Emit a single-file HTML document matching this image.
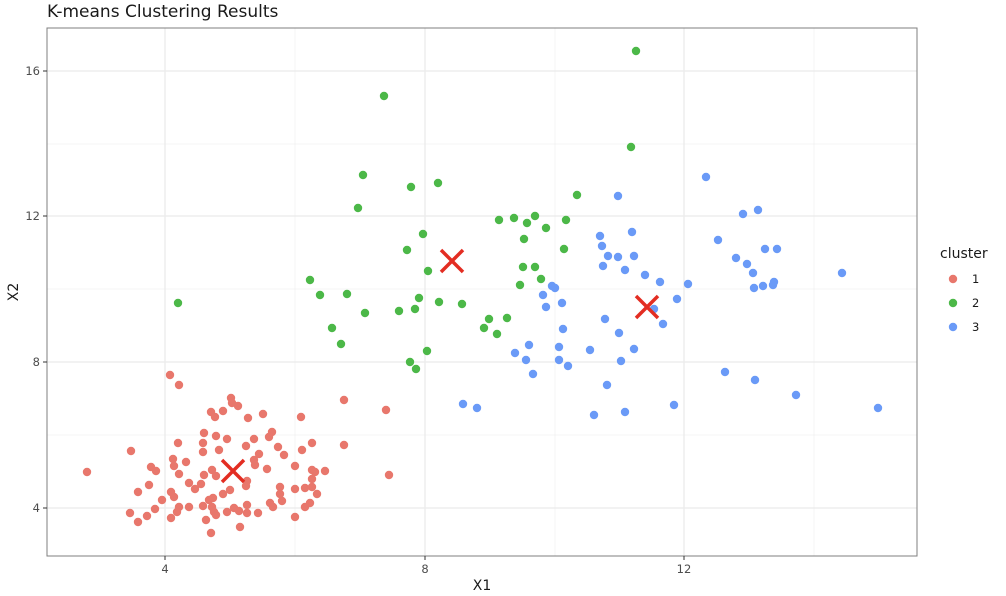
<!DOCTYPE html>
<html><head><meta charset="utf-8"><style>
html,body{margin:0;padding:0;background:#fff;}
svg{display:block;font-family:"DejaVu Sans","Liberation Sans",sans-serif;}
</style></head><body>
<svg width="1006" height="596" viewBox="0 0 1006 596">
<rect width="1006" height="596" fill="#fff"/>
<text x="47" y="17" font-size="17" fill="#1a1a1a">K-means Clustering Results</text>
<g stroke="#f2f2f2" stroke-width="0.8">
<line x1="295" y1="28" x2="295" y2="556"/><line x1="555" y1="28" x2="555" y2="556"/><line x1="814" y1="28" x2="814" y2="556"/>
<line x1="47" y1="144" x2="917" y2="144"/><line x1="47" y1="289" x2="917" y2="289"/><line x1="47" y1="435" x2="917" y2="435"/>
</g>
<g stroke="#ebebeb" stroke-width="1.3">
<line x1="165" y1="28" x2="165" y2="556"/><line x1="425" y1="28" x2="425" y2="556"/><line x1="684" y1="28" x2="684" y2="556"/>
<line x1="47" y1="71" x2="917" y2="71"/><line x1="47" y1="216" x2="917" y2="216"/><line x1="47" y1="362" x2="917" y2="362"/><line x1="47" y1="508" x2="917" y2="508"/>
</g>
<g fill="#E8776C">
<circle cx="170" cy="375" r="4.2"/><circle cx="179" cy="385" r="4.2"/><circle cx="231" cy="398" r="4.2"/><circle cx="232" cy="403" r="4.2"/><circle cx="238" cy="406" r="4.2"/><circle cx="223" cy="411" r="4.2"/><circle cx="211" cy="412" r="4.2"/><circle cx="215" cy="417" r="4.2"/><circle cx="248" cy="418" r="4.2"/><circle cx="263" cy="414" r="4.2"/><circle cx="301" cy="417" r="4.2"/><circle cx="344" cy="400" r="4.2"/><circle cx="386" cy="410" r="4.2"/>
<circle cx="204" cy="433" r="4.2"/><circle cx="216" cy="436" r="4.2"/><circle cx="227" cy="439" r="4.2"/><circle cx="272" cy="432" r="4.2"/><circle cx="269" cy="437" r="4.2"/><circle cx="254" cy="439" r="4.2"/><circle cx="246" cy="446" r="4.2"/><circle cx="203" cy="443" r="4.2"/><circle cx="178" cy="443" r="4.2"/><circle cx="131" cy="451" r="4.2"/><circle cx="219" cy="450" r="4.2"/><circle cx="203" cy="452" r="4.2"/><circle cx="259" cy="454" r="4.2"/><circle cx="278" cy="447" r="4.2"/><circle cx="302" cy="450" r="4.2"/><circle cx="312" cy="443" r="4.2"/><circle cx="344" cy="445" r="4.2"/><circle cx="284" cy="455" r="4.2"/>
<circle cx="173" cy="459" r="4.2"/><circle cx="186" cy="462" r="4.2"/><circle cx="174" cy="466" r="4.2"/><circle cx="151" cy="467" r="4.2"/><circle cx="156" cy="471" r="4.2"/><circle cx="87" cy="472" r="4.2"/><circle cx="212" cy="470" r="4.2"/><circle cx="254" cy="460" r="4.2"/><circle cx="255" cy="465" r="4.2"/><circle cx="267" cy="469" r="4.2"/><circle cx="295" cy="466" r="4.2"/><circle cx="312" cy="470" r="4.2"/><circle cx="315" cy="472" r="4.2"/><circle cx="325" cy="471" r="4.2"/><circle cx="389" cy="475" r="4.2"/>
<circle cx="179" cy="474" r="4.2"/><circle cx="204" cy="475" r="4.2"/><circle cx="216" cy="476" r="4.2"/><circle cx="247" cy="481" r="4.2"/><circle cx="246" cy="486" r="4.2"/><circle cx="189" cy="483" r="4.2"/><circle cx="201" cy="484" r="4.2"/><circle cx="149" cy="485" r="4.2"/><circle cx="195" cy="489" r="4.2"/><circle cx="230" cy="490" r="4.2"/><circle cx="280" cy="487" r="4.2"/><circle cx="312" cy="479" r="4.2"/><circle cx="305" cy="488" r="4.2"/><circle cx="312" cy="487" r="4.2"/><circle cx="295" cy="489" r="4.2"/><circle cx="138" cy="492" r="4.2"/><circle cx="171" cy="492" r="4.2"/><circle cx="174" cy="497" r="4.2"/><circle cx="223" cy="494" r="4.2"/><circle cx="280" cy="494" r="4.2"/><circle cx="317" cy="494" r="4.2"/><circle cx="162" cy="500" r="4.2"/><circle cx="209" cy="500" r="4.2"/><circle cx="213" cy="498" r="4.2"/><circle cx="282" cy="501" r="4.2"/>
<circle cx="130" cy="513" r="4.2"/><circle cx="155" cy="509" r="4.2"/><circle cx="179" cy="507" r="4.2"/><circle cx="177" cy="512" r="4.2"/><circle cx="189" cy="507" r="4.2"/><circle cx="203" cy="506" r="4.2"/><circle cx="212" cy="507" r="4.2"/><circle cx="214" cy="512" r="4.2"/><circle cx="234" cy="508" r="4.2"/><circle cx="239" cy="511" r="4.2"/><circle cx="247" cy="505" r="4.2"/><circle cx="247" cy="513" r="4.2"/><circle cx="227" cy="512" r="4.2"/><circle cx="258" cy="513" r="4.2"/><circle cx="270" cy="503" r="4.2"/><circle cx="273" cy="507" r="4.2"/><circle cx="305" cy="507" r="4.2"/><circle cx="310" cy="503" r="4.2"/><circle cx="138" cy="522" r="4.2"/><circle cx="147" cy="516" r="4.2"/><circle cx="171" cy="518" r="4.2"/><circle cx="206" cy="520" r="4.2"/><circle cx="216" cy="515" r="4.2"/><circle cx="295" cy="517" r="4.2"/><circle cx="240" cy="527" r="4.2"/><circle cx="211" cy="533" r="4.2"/>
</g>
<g fill="#4CB848">
<circle cx="384" cy="96" r="4.2"/><circle cx="636" cy="51" r="4.2"/><circle cx="631" cy="147" r="4.2"/><circle cx="178" cy="303" r="4.2"/>
<circle cx="363" cy="175" r="4.2"/><circle cx="411" cy="187" r="4.2"/><circle cx="438" cy="183" r="4.2"/><circle cx="358" cy="208" r="4.2"/><circle cx="423" cy="234" r="4.2"/><circle cx="407" cy="250" r="4.2"/><circle cx="428" cy="271" r="4.2"/><circle cx="310" cy="280" r="4.2"/><circle cx="320" cy="295" r="4.2"/><circle cx="347" cy="294" r="4.2"/><circle cx="365" cy="313" r="4.2"/><circle cx="332" cy="328" r="4.2"/><circle cx="341" cy="344" r="4.2"/><circle cx="419" cy="298" r="4.2"/><circle cx="415" cy="309" r="4.2"/><circle cx="399" cy="311" r="4.2"/><circle cx="439" cy="302" r="4.2"/><circle cx="462" cy="304" r="4.2"/><circle cx="427" cy="351" r="4.2"/><circle cx="410" cy="362" r="4.2"/><circle cx="416" cy="369" r="4.2"/>
<circle cx="499" cy="220" r="4.2"/><circle cx="514" cy="218" r="4.2"/><circle cx="527" cy="223" r="4.2"/><circle cx="535" cy="216" r="4.2"/><circle cx="546" cy="228" r="4.2"/><circle cx="566" cy="220" r="4.2"/><circle cx="577" cy="195" r="4.2"/><circle cx="524" cy="239" r="4.2"/><circle cx="564" cy="249" r="4.2"/><circle cx="523" cy="267" r="4.2"/><circle cx="535" cy="267" r="4.2"/><circle cx="541" cy="279" r="4.2"/><circle cx="520" cy="285" r="4.2"/><circle cx="489" cy="319" r="4.2"/><circle cx="507" cy="318" r="4.2"/><circle cx="484" cy="328" r="4.2"/><circle cx="497" cy="334" r="4.2"/>
</g>
<g fill="#6A9AF7">
<circle cx="842" cy="273" r="4.2"/><circle cx="878" cy="408" r="4.2"/><circle cx="463" cy="404" r="4.2"/><circle cx="477" cy="408" r="4.2"/>
<circle cx="706" cy="177" r="4.2"/><circle cx="618" cy="196" r="4.2"/><circle cx="743" cy="214" r="4.2"/><circle cx="758" cy="210" r="4.2"/><circle cx="632" cy="232" r="4.2"/><circle cx="600" cy="236" r="4.2"/><circle cx="602" cy="246" r="4.2"/><circle cx="718" cy="240" r="4.2"/><circle cx="608" cy="256" r="4.2"/><circle cx="618" cy="257" r="4.2"/><circle cx="634" cy="256" r="4.2"/><circle cx="765" cy="249" r="4.2"/><circle cx="777" cy="249" r="4.2"/><circle cx="736" cy="258" r="4.2"/><circle cx="747" cy="264" r="4.2"/><circle cx="603" cy="266" r="4.2"/><circle cx="625" cy="270" r="4.2"/><circle cx="753" cy="273" r="4.2"/><circle cx="645" cy="275" r="4.2"/><circle cx="660" cy="282" r="4.2"/><circle cx="688" cy="284" r="4.2"/><circle cx="774" cy="282" r="4.2"/><circle cx="773" cy="285" r="4.2"/><circle cx="763" cy="286" r="4.2"/><circle cx="754" cy="288" r="4.2"/><circle cx="552" cy="286" r="4.2"/><circle cx="555" cy="288" r="4.2"/><circle cx="543" cy="295" r="4.2"/><circle cx="562" cy="303" r="4.2"/><circle cx="546" cy="307" r="4.2"/><circle cx="677" cy="299" r="4.2"/><circle cx="654" cy="309" r="4.2"/><circle cx="663" cy="324" r="4.2"/><circle cx="605" cy="319" r="4.2"/><circle cx="563" cy="329" r="4.2"/><circle cx="619" cy="333" r="4.2"/><circle cx="529" cy="345" r="4.2"/><circle cx="515" cy="353" r="4.2"/><circle cx="559" cy="347" r="4.2"/><circle cx="590" cy="350" r="4.2"/><circle cx="634" cy="349" r="4.2"/><circle cx="526" cy="360" r="4.2"/><circle cx="559" cy="360" r="4.2"/><circle cx="568" cy="366" r="4.2"/><circle cx="621" cy="361" r="4.2"/><circle cx="533" cy="374" r="4.2"/><circle cx="725" cy="372" r="4.2"/><circle cx="755" cy="380" r="4.2"/><circle cx="607" cy="385" r="4.2"/><circle cx="796" cy="395" r="4.2"/><circle cx="674" cy="405" r="4.2"/><circle cx="594" cy="415" r="4.2"/><circle cx="625" cy="412" r="4.2"/>
</g>
<g stroke="#E32D22" stroke-width="3.5" stroke-linecap="butt">
<path d="M222 460 L244 482 M244 460 L222 482"/>
<path d="M441 250 L463 272 M463 250 L441 272"/>
<path d="M636 296 L658 318 M658 296 L636 318"/>
</g>
<rect x="47" y="28" width="870" height="528" fill="none" stroke="#7f7f7f" stroke-width="1"/>
<g stroke="#333" stroke-width="1">
<line x1="43" y1="71" x2="47" y2="71"/><line x1="43" y1="216" x2="47" y2="216"/><line x1="43" y1="362" x2="47" y2="362"/><line x1="43" y1="508" x2="47" y2="508"/>
<line x1="165" y1="556" x2="165" y2="560"/><line x1="425" y1="556" x2="425" y2="560"/><line x1="684" y1="556" x2="684" y2="560"/>
</g>
<g font-size="11.5" fill="#4d4d4d" text-anchor="end">
<text x="40" y="75">16</text><text x="40" y="220">12</text><text x="40" y="366">8</text><text x="40" y="512">4</text>
</g>
<g font-size="11.5" fill="#4d4d4d" text-anchor="middle">
<text x="165" y="573">4</text><text x="425" y="573">8</text><text x="684" y="573">12</text>
</g>
<text x="482" y="590" font-size="14" text-anchor="middle" fill="#1a1a1a">X1</text>
<text transform="translate(18,292) rotate(-90)" font-size="14" text-anchor="middle" fill="#1a1a1a">X2</text>
<text x="940" y="258" font-size="14" fill="#1a1a1a">cluster</text>
<circle cx="953" cy="279" r="4.2" fill="#E8776C"/><circle cx="953" cy="303" r="4.2" fill="#4CB848"/><circle cx="953" cy="327" r="4.2" fill="#6A9AF7"/>
<g font-size="11.5" fill="#1a1a1a"><text x="972" y="283">1</text><text x="972" y="307">2</text><text x="972" y="331">3</text></g>
</svg>
</body></html>
